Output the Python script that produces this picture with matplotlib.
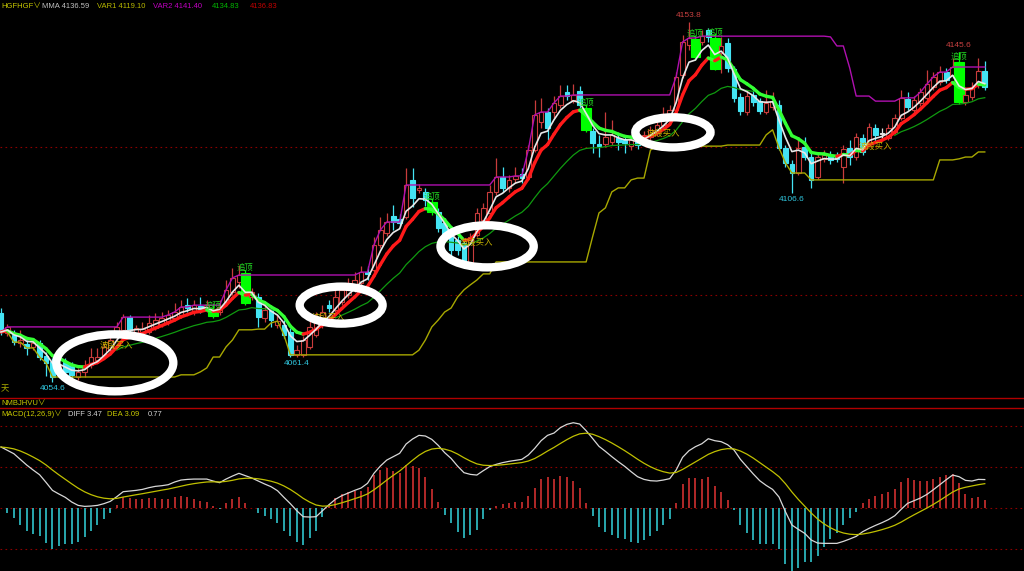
import numpy as np
import pandas as pd
import matplotlib
matplotlib.use("Agg")
import matplotlib.pyplot as plt
from matplotlib.patches import Rectangle, Ellipse
from matplotlib.collections import LineCollection

plt.rcParams['font.family'] = ['Liberation Sans', 'Noto Sans CJK SC', 'DejaVu Sans']

# ---- data ----
opens = [
    4073.6, 4068.1, 4067.6, 4065.4, 4065.1, 4064.3, 4065.4, 4061.8, 4060.1, 4057.9,
    4060.1, 4059.3, 4056.0, 4057.4, 4059.3, 4060.7, 4062.1, 4063.4, 4067.0, 4069.0,
    4072.5, 4067.9, 4068.1, 4068.4, 4069.5, 4070.3, 4071.2, 4072.3, 4073.1, 4075.8,
    4073.9, 4075.6, 4074.7, 4074.2, 4073.9, 4076.7, 4079.4, 4082.2, 4084.7, 4078.0,
    4078.0, 4072.3, 4074.5, 4070.3, 4070.3, 4068.4, 4062.1, 4062.1, 4064.3, 4067.6,
    4070.3, 4075.8, 4074.5, 4076.7, 4078.6, 4080.0, 4081.9, 4084.9, 4085.5, 4092.4,
    4095.7, 4100.4, 4099.5, 4100.1, 4110.3, 4107.5, 4107.0, 4104.2, 4101.5, 4098.4,
    4096.5, 4093.7, 4092.9, 4087.4, 4095.1, 4099.3, 4101.2, 4107.0, 4111.1, 4108.1,
    4110.5, 4111.9, 4111.1, 4118.5, 4126.2, 4129.0, 4129.0, 4130.9, 4134.5, 4132.3,
    4134.8, 4130.1, 4123.8, 4120.2, 4120.2, 4120.7, 4121.8, 4121.3, 4119.6, 4121.3,
    4120.7, 4122.1, 4123.2, 4125.4, 4127.4, 4129.6, 4139.2, 4147.5, 4149.1, 4148.3,
    4151.6, 4149.4, 4145.3, 4148.0, 4140.9, 4133.1, 4129.0, 4133.7, 4132.0, 4129.0,
    4130.4, 4130.9, 4119.1, 4114.7, 4112.2, 4119.4, 4116.6, 4111.1, 4116.1, 4117.2,
    4116.9, 4113.9, 4119.1, 4116.6, 4121.8, 4120.5, 4124.6, 4123.0, 4121.8, 4123.5,
    4127.4, 4132.6, 4129.6, 4131.5, 4132.9, 4135.9, 4137.3, 4140.0, 4139.2, 4142.8,
    4131.8, 4133.1, 4136.4, 4140.3,
]
highs = [
    4075.0, 4070.6, 4069.0, 4069.0, 4066.2, 4066.2, 4066.2, 4062.9, 4061.2, 4060.1,
    4061.2, 4060.1, 4058.5, 4060.7, 4064.0, 4064.0, 4065.4, 4067.6, 4071.2, 4073.4,
    4073.1, 4070.3, 4071.2, 4073.1, 4073.6, 4073.9, 4074.5, 4076.4, 4077.2, 4077.8,
    4077.2, 4078.0, 4077.2, 4076.4, 4077.2, 4082.7, 4086.0, 4086.9, 4085.5, 4080.5,
    4079.1, 4075.8, 4075.6, 4073.1, 4071.7, 4069.5, 4064.8, 4067.3, 4071.7, 4073.9,
    4075.8, 4077.2, 4080.0, 4081.4, 4083.3, 4084.9, 4086.6, 4086.6, 4094.6, 4100.1,
    4101.2, 4103.4, 4100.9, 4113.6, 4113.6, 4109.2, 4108.1, 4105.3, 4102.6, 4099.8,
    4097.6, 4094.9, 4093.7, 4095.7, 4102.6, 4103.9, 4108.9, 4116.3, 4113.9, 4111.7,
    4113.9, 4113.6, 4119.9, 4132.3, 4132.9, 4130.1, 4133.4, 4136.4, 4136.4, 4136.7,
    4136.2, 4131.2, 4124.6, 4122.7, 4129.0, 4126.8, 4123.2, 4122.4, 4122.4, 4122.4,
    4123.8, 4125.2, 4126.8, 4130.4, 4130.9, 4140.0, 4150.2, 4153.8, 4150.2, 4151.6,
    4152.1, 4150.8, 4149.7, 4149.4, 4141.7, 4134.2, 4135.1, 4135.1, 4132.9, 4135.1,
    4134.5, 4132.3, 4119.9, 4115.8, 4122.1, 4122.1, 4118.0, 4117.7, 4118.5, 4118.3,
    4118.0, 4119.9, 4121.3, 4123.2, 4123.0, 4126.0, 4125.7, 4124.6, 4125.7, 4128.5,
    4135.1, 4134.5, 4133.4, 4135.6, 4140.6, 4140.0, 4141.7, 4141.1, 4143.9, 4145.6,
    4135.6, 4137.3, 4143.9, 4143.1,
]
lows = [
    4067.6, 4067.3, 4064.8, 4064.3, 4062.1, 4063.4, 4060.7, 4056.3, 4054.6, 4056.8,
    4056.6, 4054.9, 4055.2, 4056.0, 4058.5, 4059.9, 4061.2, 4062.9, 4066.2, 4068.1,
    4067.9, 4067.0, 4067.3, 4067.9, 4069.0, 4069.8, 4070.3, 4071.7, 4072.3, 4073.9,
    4073.1, 4073.6, 4073.9, 4072.3, 4073.1, 4075.8, 4078.6, 4080.5, 4075.8, 4077.2,
    4069.8, 4071.2, 4069.8, 4069.5, 4066.8, 4061.5, 4061.4, 4061.5, 4063.7, 4067.0,
    4069.5, 4073.9, 4073.9, 4075.8, 4077.8, 4079.4, 4081.1, 4082.7, 4084.9, 4091.5,
    4094.9, 4096.5, 4097.6, 4099.5, 4102.8, 4106.7, 4103.1, 4100.6, 4095.9, 4093.2,
    4089.3, 4089.6, 4086.9, 4086.9, 4094.6, 4098.2, 4100.4, 4106.1, 4107.0, 4107.0,
    4109.4, 4109.4, 4110.3, 4118.0, 4124.6, 4121.3, 4127.4, 4130.1, 4132.3, 4131.5,
    4130.1, 4123.5, 4117.7, 4116.6, 4119.4, 4119.9, 4118.5, 4117.7, 4118.5, 4118.8,
    4119.9, 4121.3, 4122.4, 4124.6, 4126.8, 4129.0, 4138.4, 4146.1, 4143.3, 4147.5,
    4148.3, 4140.6, 4139.7, 4140.0, 4131.8, 4128.2, 4128.2, 4130.7, 4128.5, 4128.5,
    4129.6, 4118.5, 4113.9, 4106.6, 4111.7, 4115.8, 4108.1, 4110.5, 4115.2, 4114.8,
    4115.2, 4109.4, 4114.4, 4115.8, 4117.2, 4119.6, 4121.0, 4121.3, 4121.3, 4123.0,
    4126.8, 4129.6, 4128.7, 4130.7, 4132.3, 4135.1, 4136.4, 4137.0, 4138.4, 4131.2,
    4130.9, 4132.3, 4135.6, 4135.1,
]
closes = [
    4068.4, 4069.8, 4065.6, 4066.2, 4064.0, 4065.4, 4061.5, 4059.9, 4056.0, 4059.3,
    4057.4, 4056.6, 4057.4, 4058.5, 4061.5, 4061.5, 4064.3, 4066.2, 4069.8, 4072.5,
    4069.0, 4069.5, 4069.2, 4070.9, 4071.7, 4072.3, 4073.1, 4073.9, 4075.3, 4075.0,
    4075.8, 4074.7, 4075.8, 4072.8, 4075.3, 4080.0, 4083.3, 4084.1, 4076.4, 4079.4,
    4072.5, 4074.5, 4071.7, 4071.4, 4067.6, 4062.1, 4063.4, 4066.2, 4069.8, 4071.7,
    4073.9, 4075.0, 4078.0, 4080.0, 4081.4, 4082.7, 4084.9, 4084.4, 4092.4, 4096.5,
    4098.7, 4098.7, 4098.4, 4108.9, 4105.3, 4108.1, 4104.8, 4101.5, 4097.1, 4094.3,
    4091.0, 4091.0, 4087.7, 4094.6, 4101.2, 4102.6, 4107.0, 4111.1, 4108.1, 4110.3,
    4111.4, 4110.8, 4118.5, 4128.2, 4129.0, 4124.6, 4131.5, 4133.4, 4133.4, 4133.7,
    4130.9, 4124.1, 4120.5, 4119.6, 4122.1, 4122.7, 4120.7, 4120.5, 4121.3, 4119.9,
    4122.7, 4124.1, 4125.4, 4127.4, 4129.6, 4138.7, 4148.3, 4149.4, 4144.2, 4149.9,
    4149.7, 4140.9, 4147.2, 4141.1, 4132.9, 4129.3, 4133.4, 4131.8, 4129.3, 4131.5,
    4132.0, 4119.1, 4115.0, 4112.2, 4119.1, 4116.6, 4110.3, 4116.6, 4117.2, 4115.8,
    4116.1, 4118.8, 4116.6, 4122.1, 4118.0, 4124.9, 4122.7, 4123.0, 4124.6, 4127.4,
    4132.9, 4130.4, 4132.3, 4134.5, 4136.7, 4138.7, 4140.0, 4137.8, 4141.4, 4131.8,
    4133.7, 4135.9, 4140.3, 4135.9,
]
diff = [
    7.44, 7.03, 6.62, 5.93, 5.24, 4.63, 4.06, 3.13, 2.15, 1.71,
    1.30, 0.73, 0.32, 0.20, 0.24, 0.32, 0.53, 0.81, 1.38, 1.99,
    2.07, 2.15, 2.27, 2.48, 2.64, 2.72, 2.84, 3.17, 3.41, 3.49,
    3.53, 3.53, 3.53, 3.29, 3.09, 3.53, 3.90, 4.23, 3.94, 3.66,
    3.29, 2.93, 2.60, 2.11, 1.30, 0.53, -0.33, -1.06, -1.10, -1.06,
    -0.33, 0.40, 1.06, 1.50, 1.83, 2.15, 2.44, 3.01, 4.23, 5.12,
    5.85, 6.26, 6.67, 7.80, 8.41, 8.86, 8.78, 8.37, 7.64, 6.75,
    6.05, 5.12, 4.31, 4.10, 4.02, 4.55, 5.04, 5.32, 5.53, 5.69,
    5.81, 5.93, 6.46, 7.27, 8.21, 8.86, 9.14, 9.80, 10.20, 10.40,
    10.24, 9.43, 8.49, 7.52, 6.91, 6.26, 5.65, 5.08, 4.43, 3.82,
    3.49, 3.33, 3.29, 3.41, 3.58, 4.63, 6.18, 6.99, 7.48, 7.84,
    8.45, 8.21, 8.09, 7.72, 7.07, 5.93, 5.04, 4.15, 3.33, 2.76,
    2.27, 1.34, -0.45, -2.07, -2.60, -3.09, -3.90, -4.27, -4.31, -4.31,
    -4.31, -4.07, -3.78, -3.46, -2.89, -2.48, -2.12, -1.79, -1.42, -0.94,
    -0.16, 0.57, 0.89, 1.22, 1.66, 2.23, 2.84, 3.45, 4.02, 3.82,
    3.37, 3.29, 3.49, 3.47,
]
top_signals = [33, 38, 67, 91, 108, 111, 149]      # 追顶
buy_signals = [18, 51, 74, 103, 136]               # 波段买入
high_marks = [107, 149]
low_marks = [8, 46, 123]
grid_prices = [4078.6, 4119.4]
macd_grid = [-5, 0, 5, 10]
header_vals = [4136.59, 4119.10, 4141.40, 4134.83, 4136.83]
macd_vals = [3.47, 3.09, 0.77]
# hand drawn rings: (center index, center price, width in bars, height in price)
rings = [(17.7, 4059.9, 18.2, 15.7), (52.9, 4075.8, 12.9, 10.2),
         (75.6, 4092.0, 14.5, 11.6), (104.5, 4123.4, 11.7, 8.3)]

o = np.array(opens); h = np.array(highs); l = np.array(lows); c = np.array(closes)
idx = np.arange(len(c))
cs = pd.Series(c)
mma = cs.ewm(span=4, adjust=False).mean().values
fast = cs.ewm(span=7, adjust=False).mean().values
slow = cs.ewm(span=20, adjust=False).mean().values
upper = cs.rolling(20, min_periods=1).max().values
lower = cs.rolling(20, min_periods=1).min().values
d = pd.Series(diff)
dea = d.ewm(span=9, adjust=False).mean().values
bar = 2 * (d.values - dea)

RED = '#c83c3c'
CYAN = '#44e4f4'
LIME = '#00ff00'

W, H = 1024, 571
def fy(py):
    return 1 - py / H

fig = plt.figure(figsize=(10.24, 5.71), dpi=100, facecolor='black')
ax = fig.add_axes([0, fy(397), 1, 397 / H])
ax2 = fig.add_axes([0, 0, 1, (H - 416) / H])
for a in (ax, ax2):
    a.set_facecolor('black')
    a.set_axis_off()
    a.set_xlim(-0.156, 159.1)
ax.set_ylim(4050.49, 4159.86)
ax2.set_ylim(-7.68, 11.22)

for p in grid_prices:
    ax.axhline(p, color='#8c0000', lw=0.8, ls=(0, (1.5, 3)), zorder=0)

# candles
for i in idx:
    if i in top_signals:
        col, face, w = LIME, LIME, 1.5
    elif c[i] > o[i]:
        col, face, w = RED, 'black', 0.72
    elif c[i] < o[i]:
        col, face, w = CYAN, CYAN, 0.72
    else:
        col, face, w = '#e0e0e0', '#e0e0e0', 0.72
    ax.vlines(i, l[i], h[i], color=col, lw=0.9, zorder=2)
    bot = min(o[i], c[i])
    hgt = max(abs(c[i] - o[i]), 0.12)
    ax.add_patch(Rectangle((i - w / 2, bot), w, hgt, facecolor=face,
                           edgecolor=col, lw=0.8, zorder=3))

ax.plot(idx, upper, color='#b010b0', lw=1.0, zorder=4)
ax.plot(idx, lower, color='#a8a800', lw=1.0, zorder=4)
ax.plot(idx, np.where(slow <= fast, slow, np.nan), color='#109a10', lw=0.9, zorder=4)

segs = [[(i - 1, fast[i - 1]), (i, fast[i])] for i in idx[1:]]
segcols = ['#ff1a1a' if fast[i] >= fast[i - 1] else '#33ff33' for i in idx[1:]]
ax.add_collection(LineCollection(segs, colors=segcols, linewidths=2.4,
                                 capstyle='round', zorder=5))
ax.plot(idx, mma, color='#e8e8e8', lw=1.2, zorder=6)

for i in top_signals:
    ax.annotate('追顶', (i, max(o[i], c[i])), xytext=(0, 1), textcoords='offset points',
                ha='center', va='bottom', color='#22d022', fontsize=6, zorder=8)
for i in buy_signals:
    ax.annotate('波段买入', (i, l[i]), xytext=(0, -1), textcoords='offset points',
                ha='center', va='top', color='#c8b400', fontsize=6, zorder=8)
for i in high_marks:
    ax.annotate(f'{h[i]:.1f}', (i, h[i]), xytext=(0, 2), textcoords='offset points',
                ha='center', va='bottom', color='#c84040', fontsize=6, zorder=8)
for i in low_marks:
    ax.annotate(f'{l[i]:.1f}', (i, l[i]), xytext=(0, -2), textcoords='offset points',
                ha='center', va='top', color='#30c8e0', fontsize=6, zorder=8)

for cx, cy, ew, eh in rings:
    ax.add_patch(Ellipse((cx, cy), ew, eh, fill=False, edgecolor='white',
                         lw=6, zorder=10, clip_on=False))

# MACD panel
for g in macd_grid:
    ax2.axhline(g, color='#8c0000', lw=0.8, ls=(0, (1.5, 3)), zorder=0)
ax2.vlines(idx, 0, bar, colors=np.where(bar >= 0, '#d03030', '#30c4cc'), lw=1.2, zorder=2)
ax2.plot(idx, diff, color='#d8d8d8', lw=0.9, zorder=3)
ax2.plot(idx, dea, color='#c0c000', lw=0.9, zorder=3)

# separators
for py in (397.5, 408):
    fig.add_artist(plt.Line2D([0, 1], [fy(py), fy(py)], color='#b00000', lw=1,
                              transform=fig.transFigure))

# header texts
def ftext(px, py, s, col):
    fig.text(px / W, fy(py), s, color=col, fontsize=5.5, ha='left', va='center')

ftext(1, 6, 'HGFHGF∨', '#c8c800')
ftext(42, 6, f'MMA {header_vals[0]:.2f}', '#c0c0c0')
ftext(97, 6, f'VAR1 {header_vals[1]:.2f}', '#b8b800')
ftext(153, 6, f'VAR2 {header_vals[2]:.2f}', '#c000c0')
ftext(212, 6, f'{header_vals[3]:.2f}', '#00b400')
ftext(250, 6, f'{header_vals[4]:.2f}', '#c00000')

ftext(1, 403, 'NMBJHVU∨', '#c8c800')
ftext(1, 414, 'MACD(12,26,9)∨', '#c8c800')
ftext(68, 414, f'DIFF {macd_vals[0]:.2f}', '#d0d0d0')
ftext(107, 414, f'DEA {macd_vals[1]:.2f}', '#c8c800')
ftext(148, 414, f'{macd_vals[2]:.2f}', '#d0d0d0')
fig.text(9 / W, fy(390), '天', color='#b0b000', fontsize=6, ha='right', va='center')

fig.savefig('out.png', dpi=100, facecolor='black')
